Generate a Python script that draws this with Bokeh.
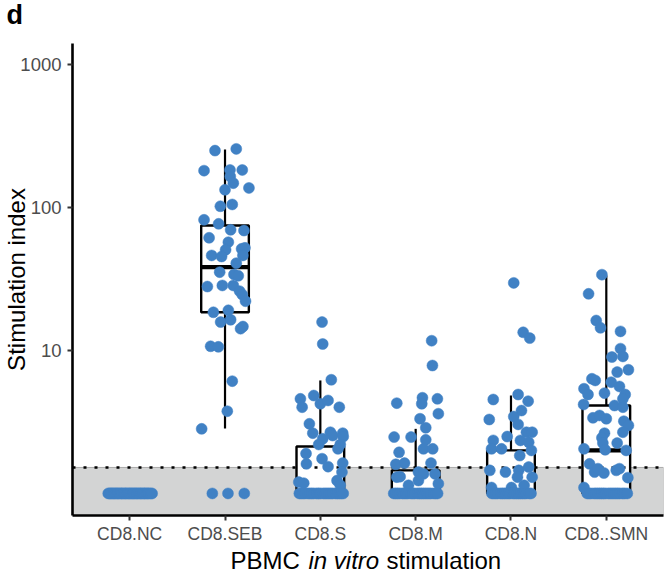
from bokeh.plotting import figure
from bokeh.layouts import column
from bokeh.models import Range1d, FixedTicker, PrintfTickFormatter
from bokeh.core.properties import value
from bokeh.embed import file_html
from bokeh.resources import INLINE

# ---------------- data ----------------
categories = ["CD8.NC", "CD8.SEB", "CD8.S", "CD8.M", "CD8.N", "CD8..SMN"]
threshold = 1.52
y_ticks = [10, 100, 1000]

# box statistics (lower whisker, q1, median, q3, upper whisker)
whisker_lo = [1.0, 2.85, 1.0, 1.0, 1.0, 1.0]
q1 = [1.0, 18.5, 1.0, 1.0, 1.0, 1.0]
median = [1.0, 38.3, 1.0, 1.0, 1.0, 2.0]
q3 = [1.0, 74.8, 2.13, 1.45, 2.0, 4.12]
whisker_hi = [1.0, 254.0, 6.17, 2.83, 4.84, 33.4]

# jittered points: values and horizontal jitter (category units)
nc_vals = [1.0] * 35
nc_jit = [-0.225, -0.21, -0.2, -0.185, -0.17, -0.16, -0.145, -0.13, -0.12, -0.105,
          -0.09, -0.08, -0.065, -0.05, -0.04, -0.025, -0.01, 0.0, 0.015, 0.03,
          0.04, 0.055, 0.07, 0.08, 0.095, 0.11, 0.12, 0.135, 0.15, 0.16,
          0.175, 0.19, 0.2, 0.22, 0.235]

seb_vals = [250, 257, 181, 183, 183, 165, 148, 133, 137, 102, 105, 82, 76.9, 69.8, 69,
            61.4, 57.2, 51.4, 52.2, 50.6, 46.2, 45.4, 46.2, 40.8, 35.3, 34, 33.3, 28,
            28.5, 28.5, 26, 24.6, 22.1, 18.5, 19.1, 15.8, 16.4, 14.2, 14.7, 10.7, 10.6,
            6.1, 3.76, 2.83, 1.0, 1.0, 1.0]
seb_jit = [-0.105, 0.118, -0.22, 0.052, 0.181, 0.055, 0.087, 0.0, 0.251, -0.049, 0.076,
           -0.22, -0.067, 0.059, 0.199, -0.167, 0.035, 0.174, 0.209, 0.006, -0.14, -0.036,
           0.188, 0.118, -0.056, 0.094, 0.139, -0.185, -0.028, 0.087, 0.153, 0.181, 0.215,
           -0.122, 0.035, -0.046, 0.059, 0.163, 0.188, -0.151, -0.07, 0.076, 0.024, -0.245,
           -0.133, 0.031, 0.202]

s_vals = [15.8, 11.1, 6.24, 4.59, 4.01, 4.84, 4.24, 4.47, 4.01, 3.07, 2.64, 2.68, 2.54,
          2.41, 2.64, 2.5, 2.2, 2.2, 2.05, 1.9, 1.75, 1.61, 1.54, 1.63, 1.41, 1.2, 1.18,
          1.23, 1.14] + [1.0] * 22
s_jit = [0.018, 0.025, 0.115, -0.209, -0.191, -0.069, 0.0, 0.081, 0.199, -0.115, -0.079,
         0.105, 0.13, 0.025, 0.235, 0.24, -0.017, 0.209, 0.185, -0.15, 0.018, -0.146, 0.081,
         0.235, 0.227, -0.226, -0.174, 0.175, 0.209,
         -0.22, -0.2, -0.18, -0.16, -0.13, -0.11, -0.09, -0.07, -0.04, -0.02, 0.0, 0.03,
         0.05, 0.07, 0.09, 0.11, 0.13, 0.16, 0.18, 0.2, 0.22, 0.24]

m_vals = [11.7, 7.85, 4.28, 4.67, 4.24, 4.59, 3.61, 3.33, 2.88, 2.48, 2.48, 2.37, 2.05,
          2.05, 1.94, 1.6, 1.63, 1.63, 1.3, 1.31, 1.41, 1.37, 1.37, 1.14, 1.17, 1.23] + [1.0] * 22
m_jit = [0.168, 0.176, -0.198, 0.071, 0.064, 0.228, 0.238, 0.046, 0.106, -0.226, -0.048,
         0.106, 0.082, 0.179, -0.174, -0.208, -0.117, 0.161, -0.198, -0.163, 0.029, 0.082,
         0.203, -0.075, 0.238, 0.029,
         -0.23, -0.21, -0.19, -0.17, -0.14, -0.12, -0.1, -0.08, -0.05, -0.03, -0.01, 0.02,
         0.04, 0.06, 0.08, 0.1, 0.12, 0.14, 0.16, 0.19, 0.21, 0.23]

n_vals = [29.7, 13.4, 12.2, 4.92, 4.54, 4.42, 3.8, 3.29, 3.45, 3.04, 2.68, 2.68, 2.5, 2.35,
          2.35, 2.28, 2.05, 2.05, 2.0, 1.84, 1.45, 1.41, 1.45, 1.53, 1.3, 1.3, 1.1, 1.1,
          1.14] + [1.0] * 20
n_jit = [0.029, 0.128, 0.197, 0.075, -0.186, 0.18, 0.11, -0.228, 0.029, 0.075, 0.162, 0.222,
         -0.04, -0.186, 0.099, 0.186, -0.204, -0.099, 0.214, 0.092, -0.222, -0.058, 0.082,
         0.186, 0.068, 0.222, -0.204, 0.005, 0.138,
         -0.2, -0.18, -0.16, -0.14, -0.11, -0.09, -0.07, -0.05, -0.03, -0.01, 0.02, 0.04,
         0.06, 0.08, 0.1, 0.12, 0.14, 0.16, 0.19, 0.21]

smn_vals = [33.9, 24.9, 16.2, 14.4, 13.6, 10.3, 9.08, 9.0, 7.33, 7.06, 6.34, 6.17, 6.0, 5.6,
            5.4, 4.92, 5.03, 4.92, 4.59, 4.19, 4.12, 4.01, 3.38, 3.51, 3.33, 3.2, 2.99, 2.68,
            2.64, 2.45, 2.25, 2.25, 2.05, 2.02, 2.0, 1.61, 1.41, 1.49, 1.39, 1.45, 1.49,
            1.29, 1.1] + [1.0] * 20
smn_jit = [-0.046, -0.186, -0.106, -0.061, 0.149, 0.149, 0.174, 0.059, 0.232, 0.114, -0.151,
           -0.116, 0.051, 0.138, -0.234, -0.192, -0.019, 0.198, 0.174, -0.238, 0.086, 0.174,
           -0.14, -0.071, 0.0, 0.184, 0.232, 0.174, -0.019, -0.046, -0.036, 0.114, -0.234,
           -0.012, 0.208, -0.176, -0.123, -0.088, -0.025, 0.104, 0.138, 0.226, -0.234,
           -0.2, -0.18, -0.16, -0.13, -0.11, -0.09, -0.07, -0.05, -0.03, -0.01, 0.02, 0.04,
           0.06, 0.08, 0.1, 0.12, 0.14, 0.17, 0.19, 0.22]

group_vals = [nc_vals, seb_vals, s_vals, m_vals, n_vals, smn_vals]
group_jit = [nc_jit, seb_jit, s_jit, m_jit, n_jit, smn_jit]

# texts
panel_tag = "d"
y_title = "Stimulation index"
xtitle_parts = ["PBMC", "in vitro", "stimulation"]
xtitle_styles = ["normal", "italic", "normal"]

# ---------------- style ----------------
FONT = "Liberation Sans"
BLUE = "#4081C4"
W = 669
idx = list(range(len(categories)))
X0, X1 = -0.6, len(categories) - 0.4
Y0, Y1 = 0.701, 1403.0
BOX_HALF = 0.25


def strip(height):
    f = figure(width=W, height=height, x_range=Range1d(0, W), y_range=Range1d(0, height),
               output_backend="svg", toolbar_location=None,
               x_axis_location=None, y_axis_location=None, frame_align=False,
               min_border_left=0, min_border_right=0, min_border_top=0, min_border_bottom=0)
    f.grid.visible = False
    f.outline_line_color = None
    f.background_fill_color = "white"
    f.border_fill_color = "white"
    return f


# top strip with the panel tag
t = strip(30)
t.text(x=[6], y=[15.5], text=[panel_tag], text_font=value(FONT),
       text_font_size=value("27px"), text_font_style=value("bold"), text_color="black",
       text_baseline=value("middle"), text_align=value("left"))

# main plot
p = figure(width=W, height=518, y_axis_type="log",
           x_range=Range1d(X0, X1), y_range=Range1d(Y0, Y1),
           output_backend="svg", toolbar_location=None, frame_align=False,
           min_border_left=70, min_border_right=6, min_border_top=13, min_border_bottom=33)
p.outline_line_color = None
p.xgrid.visible = False
p.ygrid.visible = False
p.background_fill_color = "white"
p.border_fill_color = "white"

# shaded region below threshold
p.quad(left=[X0], right=[X1], bottom=[Y0], top=[threshold],
       fill_color="#D3D4D4", line_color="#AAAAAA", line_width=1)

# whiskers
p.segment(x0=idx, y0=q3, x1=idx, y1=whisker_hi, line_color="black", line_width=2.2)
p.segment(x0=idx, y0=whisker_lo, x1=idx, y1=q1, line_color="black", line_width=2.2)
# boxes
p.quad(left=[i - BOX_HALF for i in idx], right=[i + BOX_HALF for i in idx],
       bottom=q1, top=q3, fill_color="white", line_color="black", line_width=2.4)
# medians
p.segment(x0=[i - BOX_HALF for i in idx], y0=median, x1=[i + BOX_HALF for i in idx], y1=median,
          line_color="black", line_width=4.2)

# dotted threshold line
p.line(x=[X0, X1], y=[threshold, threshold], line_color="black", line_width=2.5,
       line_dash="3 8")

# points
xs, ys = [], []
for i, (vals, jit) in enumerate(zip(group_vals, group_jit)):
    for v, j in zip(vals, jit):
        xs.append(i + j)
        ys.append(v)
p.scatter(x=xs, y=ys, size=11, fill_color=BLUE, line_color=BLUE, line_width=0.5)

# axes
for ax in (p.xaxis[0], p.yaxis[0]):
    ax.axis_line_color = "black"
    ax.axis_line_width = 2.6
    ax.major_tick_line_color = "#333333"
    ax.major_tick_line_width = 2
    ax.major_tick_in = 0
    ax.major_tick_out = 5
    ax.minor_tick_line_color = None
    ax.major_label_text_font = FONT
    ax.major_label_text_color = "#4D4D4D"

p.xaxis.ticker = FixedTicker(ticks=idx)
p.xaxis.major_label_overrides = {i: c for i, c in zip(idx, categories)}
p.xaxis.major_label_text_font_size = "17.5px"
p.xaxis.major_label_standoff = 3
p.xaxis.axis_label = None

p.yaxis.ticker = FixedTicker(ticks=y_ticks)
p.yaxis.formatter = PrintfTickFormatter(format="%d")
p.yaxis.major_label_text_font_size = "18.5px"
p.yaxis.major_label_standoff = 6
p.yaxis.axis_label = y_title
p.yaxis.axis_label_text_font = FONT
p.yaxis.axis_label_text_font_size = "24px"
p.yaxis.axis_label_text_font_style = "normal"
p.yaxis.axis_label_text_color = "black"
p.yaxis.axis_label_standoff = -13

# bottom strip with the x-axis title (mixed normal / italic text)
q = strip(27)
title_x = [230, 308, 386]
for part, style, tx in zip(xtitle_parts, xtitle_styles, title_x):
    q.text(x=[tx], y=[15.5], text=[part], text_font=value(FONT),
           text_font_size=value("24px"), text_font_style=value(style), text_color="black",
           text_baseline=value("middle"), text_align=value("left"))

layout = column(t, p, q, spacing=0)
open("out.html", "w").write(file_html(layout, INLINE))
